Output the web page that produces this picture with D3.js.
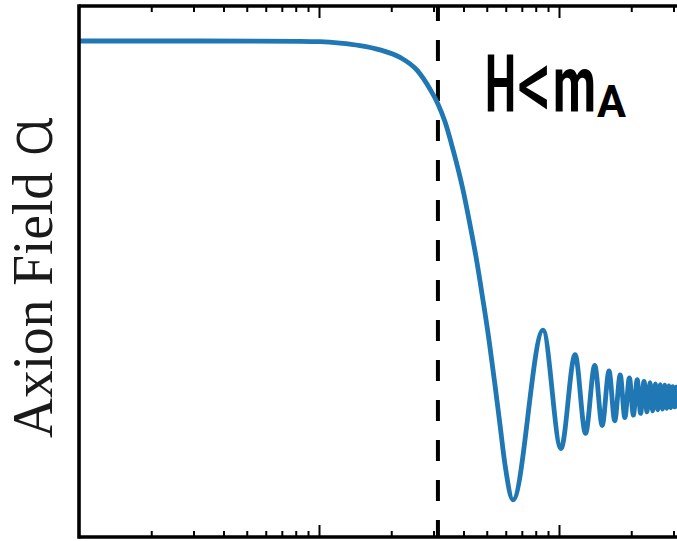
<!DOCTYPE html>
<html lang="en">
<head>
<meta charset="UTF-8">
<title>Axion Field</title>
<script src="https://d3js.org/d3.v7.min.js"></script>
<style>
  body { margin: 0; background: #fff; }
  svg { display: block; background: #fff; }
  .curve { fill: none; stroke: #1f77b4; stroke-width: 4.8; stroke-linejoin: round; stroke-linecap: round; }
  .spine { stroke: #000; stroke-width: 3.6; }
  .axis path { display: none; }
  .axis line { stroke: #000; stroke-width: 2; }
  .crossing { stroke: #000; stroke-width: 4; stroke-dasharray: 21 19; stroke-dashoffset: 6; }
  .note { font-family: Roboto, sans-serif; fill: #000; }
</style>
</head>
<body>
<script>
// scale factor (log axis) and field value
const scaleFactor = [1, 3.19, 8.33, 10.1, 12.23, 14.82, 17.95, 21.76, 25.6, 29.0, 31.3, 33.5,
  36.2, 39.8, 42.6, 45.5, 48.2, 51.1, 54.1, 56.8, 59.6, 64.3,
  85.8, 101.9, 116.7, 129.0, 140.9, 151.3, 161.6, 170.7, 179.9, 188.1,
  196.5, 204.1, 211.8, 218.8, 226.1, 232.7, 239.5, 245.7, 252.2, 258.1,
  264.3, 270.0, 275.9, 281.3, 287.0, 292.2, 297.7, 302.7, 308.0, 312.9, 318.0];
const axionField = [1, 1, 0.999, 0.998, 0.994, 0.987, 0.975, 0.954, 0.918, 0.865, 0.823, 0.773,
  0.694, 0.582, 0.483, 0.379, 0.273, 0.160, 0.034, -0.079, -0.191, -0.289,
  0.188, -0.145, 0.119, -0.102, 0.089, -0.080, 0.073, -0.067, 0.062, -0.058,
  0.054, -0.051, 0.049, -0.046, 0.044, -0.042, 0.040, -0.039, 0.037, -0.036,
  0.035, -0.034, 0.033, -0.032, 0.031, -0.030, 0.029, -0.028, 0.028, -0.027, 0.026];

const majorTicks = [10, 100];
const minorTicks = [2, 3, 4, 5, 6, 7, 8, 9, 20, 30, 40, 50, 60, 70, 80, 90, 200, 300];
const crossingAt = 31.3; // H = m_A

const W = 677, H = 541;
const plotLeft = 79, plotTop = 6, plotBottom = 537;

const svg = d3.select("body").append("svg")
  .attr("width", W)
  .attr("height", H);

const x = d3.scaleLog().domain([1, 1000]).range([plotLeft, plotLeft + 720]);
const y = d3.scaleLinear().domain([0, 1]).range([397, 41]);

svg.append("clipPath").attr("id", "plot")
  .append("rect").attr("x", plotLeft).attr("y", plotTop)
  .attr("width", W - plotLeft).attr("height", plotBottom - plotTop);

const points = scaleFactor.map((s, i) => [s, axionField[i]]);

const line = d3.line()
  .x(d => x(d[0]))
  .y(d => y(d[1]))
  .curve(d3.curveMonotoneX);

// dashed H = m_A line
svg.append("line")
  .attr("class", "crossing")
  .attr("x1", x(crossingAt)).attr("x2", x(crossingAt))
  .attr("y1", plotTop).attr("y2", plotBottom);

svg.append("path")
  .datum(points)
  .attr("class", "curve")
  .attr("clip-path", "url(#plot)")
  .attr("d", line);

// inward ticks, top and bottom
function ticks(axisFn, yPos, values, size) {
  svg.append("g")
    .attr("class", "axis")
    .attr("transform", `translate(0,${yPos})`)
    .call(axisFn(x).tickValues(values).tickSize(-size).tickSizeOuter(0).tickFormat(""));
}
ticks(d3.axisBottom, plotBottom, minorTicks, 6);
ticks(d3.axisBottom, plotBottom, majorTicks, 12);
ticks(d3.axisTop, plotTop, minorTicks, 6);
ticks(d3.axisTop, plotTop, majorTicks, 12);

// spines
svg.append("line").attr("class", "spine").attr("x1", plotLeft).attr("x2", W).attr("y1", plotTop).attr("y2", plotTop);
svg.append("line").attr("class", "spine").attr("x1", plotLeft).attr("x2", W).attr("y1", plotBottom).attr("y2", plotBottom);
svg.append("line").attr("class", "spine").attr("x1", plotLeft).attr("x2", plotLeft)
  .attr("y1", plotTop - 1.8).attr("y2", plotBottom + 1.8);

// y label
svg.append("text")
  .attr("transform", "translate(52,438) rotate(-90)")
  .attr("fill", "#1a1a1a")
  .attr("font-family", "Liberation Serif, serif")
  .attr("font-size", 57)
  .attr("textLength", 266)
  .attr("lengthAdjust", "spacingAndGlyphs")
  .text("Axion Field");
svg.append("text")
  .attr("transform", "translate(52,157) rotate(-90)")
  .attr("fill", "#1a1a1a")
  .attr("font-family", "Noto Sans, sans-serif")
  .attr("font-weight", 300)
  .attr("font-size", 66)
  .text("ɑ");

// H < m_A annotation, glyph by glyph
const note = [
  { t: "H", x: 485, y: 112, size: 80, len: 31, weight: "bold" },
  { t: "<", x: 517, y: 119, size: 100, len: 35, weight: "normal" },
  { t: "m", x: 553, y: 112, size: 80, len: 43, weight: "bold" },
  { t: "A", x: 597, y: 117, size: 45, len: 29, weight: "bold" }
];
svg.selectAll("text.note").data(note).join("text")
  .attr("class", "note")
  .attr("x", d => d.x).attr("y", d => d.y)
  .attr("font-size", d => d.size)
  .attr("font-weight", d => d.weight)
  .attr("textLength", d => d.len)
  .attr("lengthAdjust", "spacingAndGlyphs")
  .text(d => d.t);
</script>
</body>
</html>
